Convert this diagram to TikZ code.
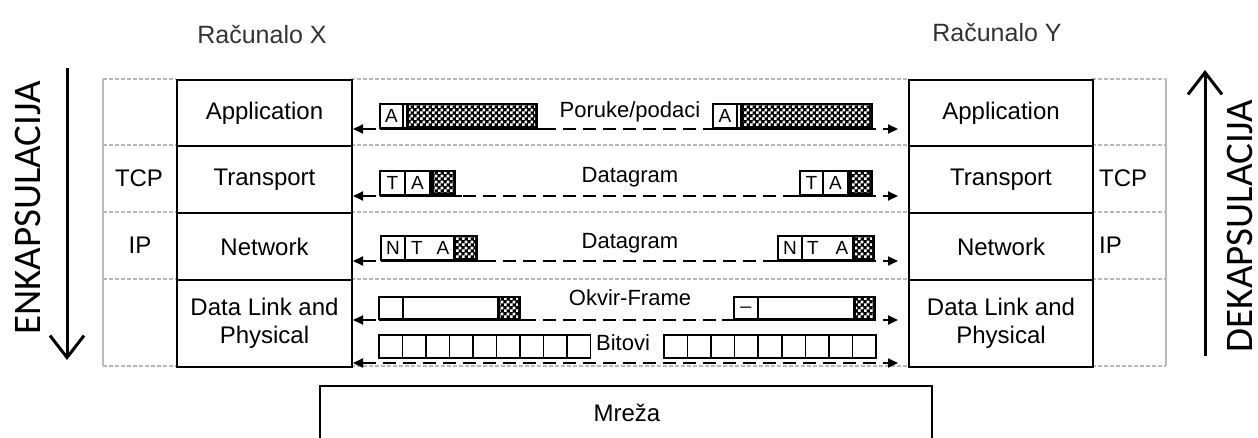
\documentclass[tikz,border=0pt]{standalone}
\usepackage{fontspec}
\setmainfont{Liberation Sans}
\newfontfamily\calib{Carlito}
\usetikzlibrary{arrows.meta,patterns}
\pgfdeclarepatternformonly{mychecker}{\pgfpointorigin}{\pgfqpoint{6pt}{6pt}}{\pgfqpoint{6pt}{6pt}}{%
 \pgfpathrectangle{\pgfpointorigin}{\pgfqpoint{3pt}{3pt}}%
 \pgfpathrectangle{\pgfqpoint{3pt}{3pt}}{\pgfqpoint{3pt}{3pt}}%
 \pgfusepath{fill}}
\tikzset{
 gridh/.style={draw=gray!55, line width=1.3pt, dash pattern=on 4pt off 2pt},
 gridv/.style={draw=gray!55, line width=1.3pt},
 layer/.style={draw=black, line width=2pt, inner sep=0pt, anchor=north west, font=\fontsize{24}{29}\selectfont, align=center},
 flow/.style={line width=2pt, dash pattern=on 13pt off 7pt, {Triangle[length=10pt,width=9pt]}-{Triangle[length=10pt,width=9pt]}},
 pkt/.style={draw=black, line width=1.6pt, fill=white},
 chkout/.style={fill=black},
 chkin/.style={pattern=mychecker, pattern color=white},
 solidln/.style={line width=2pt},
 big/.style={line width=3pt, -{Straight Barb[length=22pt,width=34pt,line width=3pt]}},
 midlbl/.style={font=\fontsize{22}{26}\selectfont, inner sep=0pt},
 cell/.style={font=\fontsize{19}{22}\selectfont, inner sep=0pt},
 side/.style={font=\fontsize{24}{29}\selectfont, inner sep=0pt},
 title/.style={font=\fontsize{25}{30}\selectfont, text=black!80, inner sep=0pt},
 vert/.style={rotate=90, font=\calib\fontsize{39}{45}\selectfont, inner sep=0pt, outer sep=0pt, text height=25pt, text depth=0pt}
}
\begin{document}
\begin{tikzpicture}[x=1pt,y=-1pt]
\useasboundingbox (0,0) rectangle (1258,438);
% titles
\node[title] (tx) at (262,35) {Računalo X};
\node[title] (ty) at (997,33) {Računalo Y};
% big arrows
\coordinate (encT) at (67,68);
\coordinate (encB) at (67,360);
\draw[big] (encT) -- (encB);
\node[vert] (enc) at (28,208) {ENKAPSULACIJA};
\coordinate (decB) at (1205,356);
\coordinate (decT) at (1205,70);
\draw[big] (decB) -- (decT);
\node[vert] (dec) at (1240,226) {DEKAPSULACIJA};
% grey grid
\draw[gridv] (103,79) -- (103,366);
\draw[gridv] (1166,79) -- (1166,366);
\foreach \y in {79,145,212,279,366}{
  \draw[gridh] (103,\y) -- (176,\y);
  \draw[gridh] (351,\y) -- (908,\y);
  \draw[gridh] (1092,\y) -- (1166,\y);
}
% host X
\node[layer, minimum width=175pt, minimum height=66pt] (xapp) at (176,79) {Application};
\node[layer, minimum width=175pt, minimum height=67pt] (xtr) at (176,145) {Transport};
\node[layer, minimum width=175pt, minimum height=67pt] (xnet) at (176,212) {Network};
\node[layer, minimum width=175pt, minimum height=87pt] (xdl) at (176,279) {Data Link and\\[-1pt]Physical};
% host Y
\node[layer, minimum width=184pt, minimum height=66pt] (yapp) at (908,79) {Application};
\node[layer, minimum width=184pt, minimum height=67pt] (ytr) at (908,145) {Transport};
\node[layer, minimum width=184pt, minimum height=67pt] (ynet) at (908,212) {Network};
\node[layer, minimum width=184pt, minimum height=87pt] (ydl) at (908,279) {Data Link and\\[-1pt]Physical};
% side labels
\node[side] (ltcp) at (139,178) {TCP};
\node[side] (lip) at (140,245) {IP};
\node[side, anchor=west] (rtcp) at (1099,178) {TCP};
\node[side, anchor=west] (rip) at (1099,245) {IP};
% flow arrows
\coordinate (f1l) at (353,129); \coordinate (f1r) at (898,129);
\coordinate (f2l) at (353,196); \coordinate (f2r) at (898,196);
\coordinate (f3l) at (353,261); \coordinate (f3r) at (898,261);
\coordinate (f4l) at (353,320); \coordinate (f4r) at (898,320);
\coordinate (f5l) at (353,363); \coordinate (f5r) at (898,363);
\draw[flow] (f1l) -- (f1r);
\draw[flow] (f2l) -- (f2r);
\draw[flow] (f3l) -- (f3r);
\draw[flow] (f4l) -- (f4r);
\draw[flow] (f5l) -- (f5r);
% row 1 packets
\draw[solidln] (380,129) -- (547,129);
\draw[solidln] (705,129) -- (872,129);
\draw[pkt] (380,104) rectangle (537,128);
\draw[pkt] (403,104) -- (403,128);
\fill[chkout] (406,103) rectangle (538,129);
\fill[chkin] (409,106) rectangle (535,126);
\node[cell] (a1) at (391.5,116) {A};
\draw[pkt] (713,104) rectangle (872,128);
\draw[pkt] (737,104) -- (737,128);
\fill[chkout] (740,103) rectangle (873,129);
\fill[chkin] (743,106) rectangle (870,126);
\node[cell] (a2) at (725,116) {A};
\node[midlbl] (l1) at (630,112) {Poruke/podaci};
% row 2 packets
\draw[solidln] (380,196) -- (462,196);
\draw[solidln] (788,196) -- (872,196);
\draw[pkt] (380,171) rectangle (455,195);
\draw[pkt] (405,171) -- (405,195);
\draw[pkt] (430,171) -- (430,195);
\fill[chkout] (431,170) rectangle (456,196);
\fill[chkin] (434,173) rectangle (453,193);
\node[cell] (t2a) at (392.5,183) {T};
\node[cell] (a2a) at (417.5,183) {A};
\draw[pkt] (800,171) rectangle (872,195);
\draw[pkt] (823,171) -- (823,195);
\draw[pkt] (848,171) -- (848,195);
\fill[chkout] (849,170) rectangle (873,196);
\fill[chkin] (852,173) rectangle (870,193);
\node[cell] (t2b) at (811.5,183) {T};
\node[cell] (a2b) at (835.5,183) {A};
\node[midlbl] (l2) at (630,177) {Datagram};
% row 3 packets
\draw[solidln] (381,261) -- (486,261);
\draw[solidln] (767,261) -- (874,261);
\draw[pkt] (381,236) rectangle (477,260);
\draw[pkt] (405,236) -- (405,260);
\fill[chkout] (453,235) rectangle (478,261);
\fill[chkin] (456,238) rectangle (475,258);
\node[cell] (n3a) at (393,248) {N};
\node[cell] (t3a) at (417,248) {T};
\node[cell] (a3a) at (443,248) {A};
\draw[pkt] (778,236) rectangle (874,260);
\draw[pkt] (802,236) -- (802,260);
\fill[chkout] (852,235) rectangle (875,261);
\fill[chkin] (855,238) rectangle (872,258);
\node[cell] (n3b) at (790,248) {N};
\node[cell] (t3b) at (813,248) {T};
\node[cell] (a3b) at (842,248) {A};
\node[midlbl] (l3) at (630,243) {Datagram};
% row 4 frames
\draw[solidln] (379,320) -- (528,320);
\draw[solidln] (722,320) -- (875,320);
\draw[pkt] (379,297) rectangle (520,319);
\draw[pkt] (403,297) -- (403,319);
\fill[chkout] (497,296) rectangle (521,320);
\fill[chkin] (500,299) rectangle (518,317);
\draw[pkt] (734,297) rectangle (875,319);
\draw[pkt] (758,297) -- (758,319);
\fill[chkout] (853,296) rectangle (876,320);
\fill[chkin] (856,299) rectangle (873,317);
\node[cell] (us) at (746,306) {\_};
\node[midlbl] (l4) at (630,298) {Okvir-Frame};
% bits
\foreach \i in {0,...,8}{
  \draw[pkt] ({379+\i*23.5},335) rectangle ({402.5+\i*23.5},358);
  \draw[pkt] ({664+\i*23.55},335) rectangle ({687.55+\i*23.55},358);
}
\node[midlbl] (l5) at (623,343) {Bitovi};
% network
\node[font=\fontsize{24}{29}\selectfont, inner sep=0pt] (net) at (627,413) {Mreža};
\draw[line width=2pt] (320,440) -- (320,386) -- (932,386) -- (932,440);
\end{tikzpicture}
\end{document}
